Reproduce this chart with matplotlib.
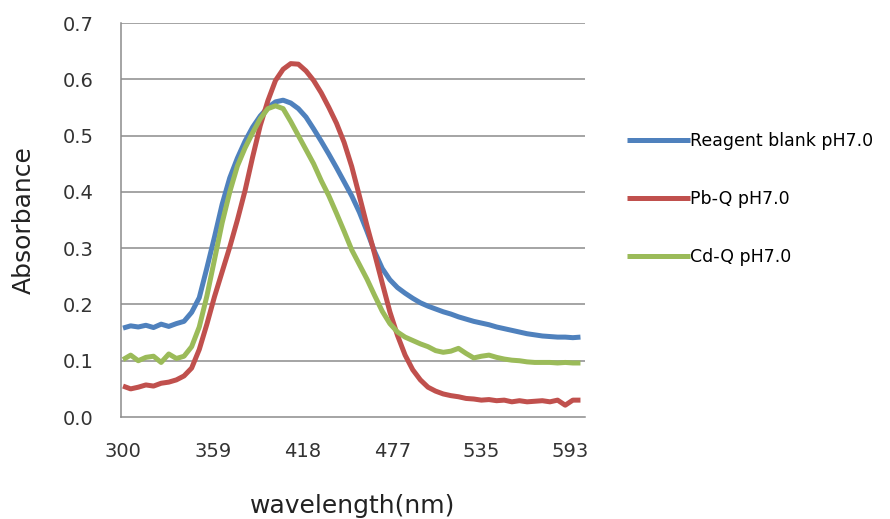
#!/usr/bin/env python3
"""
Absorption spectra of the reagent blank, Pb-Q and Cd-Q complexes at pH 7.0.

Usage:
    python plot.py
"""

import matplotlib
matplotlib.use("Agg")
import matplotlib.pyplot as plt
import numpy as np

# Wavelength grid (nm), values read every 5 nm off the original chart
WAVELENGTH = np.arange(300, 601, 5)

BLANK = [
    0.158, 0.162, 0.160, 0.163, 0.159, 0.165, 0.161, 0.166, 0.170, 0.186,
    0.212, 0.265, 0.320, 0.378, 0.425, 0.460, 0.490, 0.515, 0.535, 0.550,
    0.560, 0.563, 0.558, 0.548, 0.533, 0.512, 0.490, 0.467, 0.443, 0.418,
    0.393, 0.364, 0.330, 0.294, 0.264, 0.244, 0.230, 0.220, 0.211, 0.203,
    0.197, 0.192, 0.187, 0.183, 0.178, 0.174, 0.170, 0.167, 0.164, 0.160,
    0.157, 0.154, 0.151, 0.148, 0.146, 0.144, 0.143, 0.142, 0.142, 0.141,
    0.142,
]

PB_Q = [
    0.055, 0.050, 0.053, 0.057, 0.055, 0.060, 0.062, 0.066, 0.073, 0.087,
    0.120, 0.165, 0.214, 0.258, 0.302, 0.350, 0.402, 0.462, 0.518, 0.562,
    0.598, 0.618, 0.628, 0.627, 0.615, 0.598, 0.576, 0.550, 0.522, 0.488,
    0.445, 0.393, 0.340, 0.290, 0.238, 0.187, 0.145, 0.110, 0.084, 0.066,
    0.053, 0.046, 0.041, 0.038, 0.036, 0.033, 0.032, 0.030, 0.031, 0.029,
    0.030, 0.027, 0.029, 0.027, 0.028, 0.029, 0.027, 0.030, 0.021, 0.030,
    0.030,
]

CD_Q = [
    0.102, 0.110, 0.100, 0.106, 0.108, 0.097, 0.112, 0.104, 0.108, 0.125,
    0.160, 0.215, 0.280, 0.345, 0.400, 0.446, 0.478, 0.505, 0.530, 0.548,
    0.553, 0.548, 0.525, 0.500, 0.475, 0.450, 0.420, 0.393, 0.362, 0.330,
    0.297, 0.271, 0.245, 0.216, 0.188, 0.166, 0.151, 0.142, 0.136, 0.130,
    0.125, 0.118, 0.115, 0.117, 0.122, 0.113, 0.105, 0.108, 0.110, 0.106,
    0.103, 0.101, 0.100, 0.098, 0.097, 0.097, 0.097, 0.096, 0.097, 0.096,
    0.096,
]

SERIES_LABELS = ["Reagent blank pH7.0", "Pb-Q pH7.0", "Cd-Q pH7.0"]
SERIES_COLORS = ["#4F81BD", "#C0504D", "#9BBB59"]

X_TICKS = [300, 359, 418, 477, 535, 593]
Y_TICKS = [0.0, 0.1, 0.2, 0.3, 0.4, 0.5, 0.6, 0.7]

GRID_COLOR = "#8c8c8c"


def main():
    fig = plt.figure(figsize=(8.9, 5.19), dpi=100)
    ax = fig.add_axes([0.136, 0.1965, 0.521, 0.759])

    # Horizontal gridlines like Excel
    for y in Y_TICKS[1:]:
        ax.axhline(y, color=GRID_COLOR, linewidth=1.1, zorder=1)

    for values, label, color in zip([BLANK, PB_Q, CD_Q], SERIES_LABELS, SERIES_COLORS):
        ax.plot(WAVELENGTH, values, color=color, linewidth=3.6,
                label=label, solid_capstyle="butt", solid_joinstyle="round",
                zorder=3)

    ax.set_xlim(298.7, 602.8)
    ax.set_ylim(0, 0.7)
    ax.set_xticks(X_TICKS)
    ax.set_yticks(Y_TICKS)
    ax.set_yticklabels([f"{y:.1f}" for y in Y_TICKS])

    ax.tick_params(axis="both", length=0, labelsize=14, colors="#333333")
    ax.tick_params(axis="y", pad=20)
    ax.tick_params(axis="x", pad=18)

    for side in ["top", "right"]:
        ax.spines[side].set_visible(False)
    for side in ["left", "bottom"]:
        ax.spines[side].set_color(GRID_COLOR)
        ax.spines[side].set_linewidth(1.1)

    ax.set_xlabel("wavelength(nm)", fontsize=18, color="#222222", labelpad=24)
    ax.set_ylabel("Absorbance", fontsize=18, color="#222222", labelpad=19)

    fig.legend(loc="upper left", bbox_to_anchor=(0.687, 0.775),
               frameon=False, fontsize=12.5, handlelength=3.6,
               handletextpad=0.0, labelspacing=2.3)

    plt.savefig("out.png", dpi=100)
    plt.close()


if __name__ == "__main__":
    main()
